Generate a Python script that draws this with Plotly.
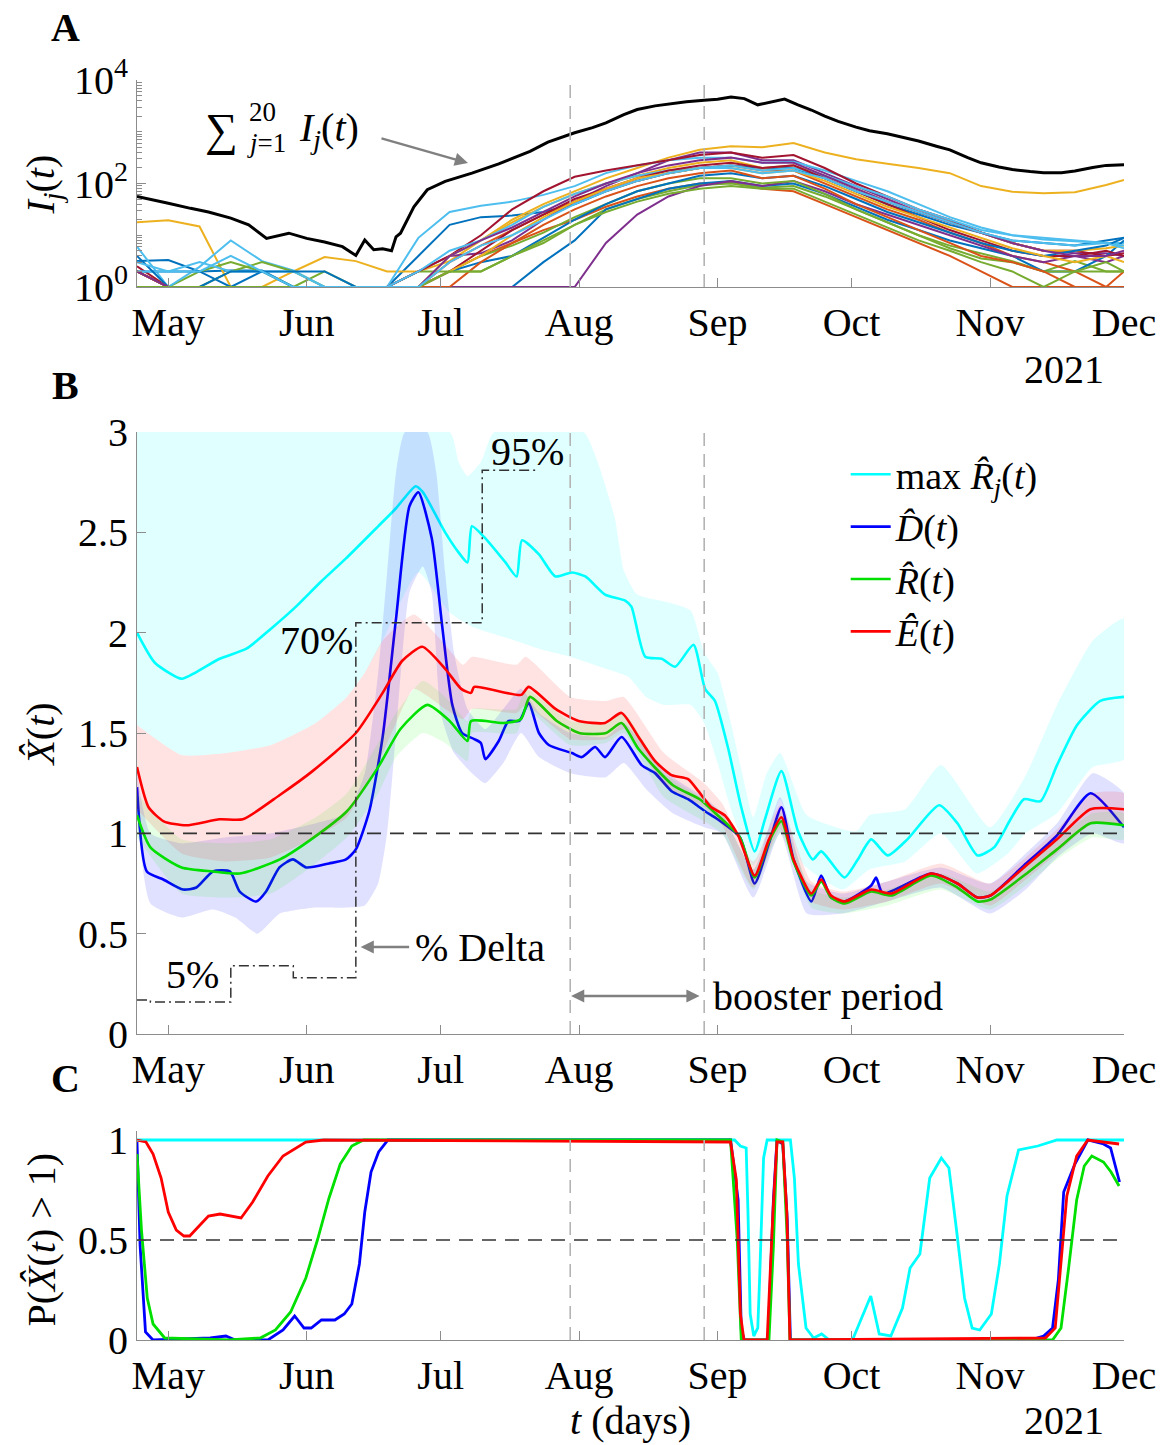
import pandas as pd
import plotly.graph_objects as go

# ---------------------------------------------------------------- time base
T0 = pd.Timestamp("2021-04-24")
X_START, X_END = "2021-04-24", "2021-12-01"
MONTH_TICKS = ["2021-05-01", "2021-06-01", "2021-07-01", "2021-08-01",
               "2021-09-01", "2021-10-01", "2021-11-01", "2021-12-01"]
MONTH_LABELS = ["May", "Jun", "Jul", "Aug", "Sep", "Oct", "Nov", "Dec"]
BOOSTER = ["2021-07-30", "2021-08-29"]

# ---------------------------------------------------------------- panel A data (log10 I_j)
A_DAYS = [0, 7, 14, 21, 28, 35, 42, 49, 56, 63, 70, 77, 84, 91, 98, 105, 112, 119,
          126, 133, 140, 147, 154, 161, 168, 175, 182, 189, 196, 203, 210, 217, 221]
LOG_I = [
    [0.5, 0.52, 0.3, 0.32, 0.32, 0, 0, 0, 0, 0.6, 1.2, 1.35, 1.38, 1.45, 1.6, 1.85, 2.05, 2.2, 2.3, 2.35, 2.3, 2.3, 2.1, 1.85, 1.6, 1.4, 1.2, 1.05, 0.9, 0.85, 0.8, 0.9, 0.95],
    [0.3, 0, 0, 0, 0, 0, 0, 0, 0, 0, 0.3, 0.6, 0.85, 1.1, 1.3, 1.55, 1.75, 1.9, 2.0, 2.02, 1.9, 1.85, 1.6, 1.35, 1.1, 0.85, 0.6, 0.3, 0, 0, 0, 0, 0],
    [1.25, 1.29, 1.17, 0.0, 0, 0.3, 0.58, 0.5, 0.3, 0.3, 0.5, 0.9, 1.3, 1.6, 1.85, 2.1, 2.3, 2.5, 2.65, 2.72, 2.7, 2.78, 2.6, 2.47, 2.38, 2.3, 2.2, 1.95, 1.84, 1.81, 1.83, 1.97, 2.07],
    [0, 0, 0, 0, 0, 0, 0, 0, 0, 0.3, 0.6, 0.65, 0.9, 1.3, 1.65, 1.95, 2.2, 2.45, 2.6, 2.6, 2.45, 2.45, 2.2, 1.95, 1.7, 1.45, 1.25, 1.05, 0.85, 0.7, 0.65, 0.65, 0.6],
    [0.3, 0, 0.3, 0.48, 0.3, 0, 0.3, 0, 0, 0.3, 0.3, 0.3, 0.6, 0.85, 1.2, 1.5, 1.7, 1.85, 1.97, 2.0, 1.92, 1.95, 1.75, 1.5, 1.25, 1.0, 0.8, 0.65, 0.5, 0.3, 0.5, 0.3, 0.3],
    [0.78, 0, 0.39, 0.9, 0.5, 0.32, 0, 0, 0, 0.95, 1.45, 1.57, 1.65, 1.78, 1.95, 2.2, 2.35, 2.45, 2.5, 2.5, 2.4, 2.42, 2.25, 2.05, 1.85, 1.6, 1.35, 1.15, 1.0, 0.92, 0.88, 0.85, 0.85],
    [0.4, 0, 0, 0, 0, 0, 0, 0, 0, 0.3, 0.6, 1.0, 1.5, 1.85, 2.13, 2.25, 2.35, 2.45, 2.55, 2.6, 2.5, 2.55, 2.3, 2.0, 1.75, 1.5, 1.3, 1.05, 0.85, 0.7, 0.7, 0.6, 0.65],
    [0.3, 0.3, 0.3, 0, 0.3, 0, 0, 0, 0, 0, 0, 0, 0, 0.48, 0.9, 1.5, 1.7, 1.9, 2.0, 2.05, 1.95, 2.0, 1.8, 1.55, 1.3, 1.1, 0.9, 0.75, 0.6, 0.3, 0.3, 0.6, 0.9],
    [0, 0, 0, 0, 0, 0, 0, 0, 0, 0, 0.48, 0.8, 1.1, 1.4, 1.65, 1.85, 2.05, 2.2, 2.3, 2.35, 2.25, 2.25, 2.0, 1.75, 1.5, 1.3, 1.05, 0.85, 0.6, 0.48, 0.3, 0, 0.3],
    [0, 0, 0, 0, 0, 0, 0, 0, 0, 0, 0.6, 0.9, 1.25, 1.55, 1.8, 2.0, 2.15, 2.3, 2.4, 2.45, 2.3, 2.35, 2.15, 1.9, 1.65, 1.45, 1.25, 1.05, 0.85, 0.7, 0.7, 0.75, 0.8],
    [0, 0, 0, 0, 0, 0, 0, 0, 0, 0, 0, 0, 0, 0, 0, 0.85, 1.4, 1.75, 1.95, 2.05, 1.95, 2.05, 1.85, 1.6, 1.4, 1.2, 1.0, 0.8, 0.6, 0.48, 0.6, 0.48, 0.6],
    [0.3, 0, 0, 0.3, 0.48, 0.3, 0, 0, 0, 0, 0.3, 0.6, 0.8, 1.05, 1.35, 1.6, 1.85, 2.0, 2.1, 2.1, 2.0, 2.05, 1.8, 1.5, 1.25, 1.0, 0.75, 0.55, 0.48, 0.3, 0.3, 0.48, 0.3],
    [0.3, 0.3, 0.48, 0.3, 0.3, 0.3, 0, 0, 0, 0.3, 0.7, 0.9, 1.2, 1.55, 1.8, 2.0, 2.15, 2.25, 2.3, 2.35, 2.25, 2.3, 2.15, 1.95, 1.75, 1.5, 1.3, 1.1, 1.0, 0.95, 0.9, 0.85, 0.8],
    [0.3, 0, 0, 0, 0, 0, 0, 0, 0, 0, 0.3, 0.7, 1.1, 1.4, 1.7, 1.9, 2.1, 2.25, 2.35, 2.4, 2.3, 2.35, 2.1, 1.85, 1.6, 1.35, 1.1, 0.9, 0.7, 0.6, 0.6, 0.7, 0.6],
    [0.6, 0, 0, 0.3, 0.3, 0.3, 0.3, 0, 0, 0, 0.3, 0.48, 0.6, 0.95, 1.3, 1.6, 1.85, 2.0, 2.15, 2.2, 2.1, 2.15, 1.95, 1.7, 1.45, 1.25, 1.05, 0.85, 0.7, 0.6, 0.7, 0.8, 0.95],
    [0.3, 0, 0, 0, 0, 0, 0, 0, 0, 0, 0, 0.48, 0.85, 1.2, 1.5, 1.75, 1.95, 2.1, 2.2, 2.25, 2.1, 2.15, 1.9, 1.6, 1.35, 1.1, 0.85, 0.6, 0.48, 0.3, 0, 0, 0],
    [0, 0, 0, 0, 0, 0, 0, 0, 0, 0, 0.3, 0.6, 1.0, 1.35, 1.65, 1.9, 2.1, 2.2, 2.3, 2.3, 2.2, 2.25, 2.05, 1.8, 1.55, 1.35, 1.15, 0.95, 0.75, 0.6, 0.48, 0.6, 0.48],
    [0.3, 0, 0, 0, 0, 0, 0, 0, 0, 0, 0.6, 0.9, 1.15, 1.45, 1.75, 2.0, 2.2, 2.35, 2.45, 2.5, 2.4, 2.4, 2.15, 1.9, 1.65, 1.45, 1.25, 1.05, 0.85, 0.7, 0.6, 0.6, 0.7],
    [0, 0, 0, 0, 0, 0, 0, 0, 0, 0, 0.3, 0.3, 0.6, 0.9, 1.2, 1.45, 1.65, 1.8, 1.9, 1.95, 1.9, 1.9, 1.65, 1.4, 1.15, 0.9, 0.7, 0.48, 0.3, 0, 0.3, 0.3, 0.3],
    [0.48, 0.3, 0.3, 0.6, 0.3, 0, 0, 0, 0, 0, 0.48, 0.8, 1.0, 1.3, 1.6, 1.85, 2.05, 2.2, 2.3, 2.3, 2.2, 2.25, 2.1, 1.85, 1.65, 1.45, 1.25, 1.05, 0.9, 0.85, 0.8, 0.85, 0.75],
]
SUM_DAYS = [0, 4, 7, 12, 16, 21, 25, 29, 34, 38, 42, 46, 49, 51, 53, 55, 57, 58, 59, 62, 65, 69,
            75, 81, 88, 92, 98, 102, 105, 109, 112, 116, 119, 123, 127, 130, 133, 136, 139, 142,
            145, 148, 151, 154, 157, 161, 164, 168, 172, 175, 179, 182, 186, 189, 193, 196, 200,
            203, 207, 210, 214, 217, 221]
SUM_LOG = [1.75, 1.68, 1.62, 1.52, 1.45, 1.33, 1.2, 0.94, 1.04, 0.94, 0.87, 0.78, 0.61, 0.91, 0.72,
           0.74, 0.70, 0.97, 1.04, 1.55, 1.88, 2.04, 2.2, 2.38, 2.62, 2.80, 2.98, 3.08, 3.17, 3.33,
           3.43, 3.50, 3.54, 3.58, 3.61, 3.63, 3.67, 3.64, 3.52, 3.58, 3.63, 3.52, 3.42, 3.30, 3.20,
           3.09, 3.02, 2.96, 2.88, 2.82, 2.72, 2.65, 2.50, 2.40, 2.32, 2.27, 2.23, 2.21, 2.21, 2.24,
           2.31, 2.35, 2.36]

# ---------------------------------------------------------------- panel B data
MAXR_DAYS = [0, 4, 10, 13, 18.5, 24.5, 30, 35.6, 41, 46.8, 54, 58, 62.4, 64, 69, 72, 74, 75, 78,
             82.5, 85, 86.2, 90, 93.7, 97.4, 100.4, 104.8, 109.3, 110.7, 113.8, 117.5, 120.5,
             124.6, 127.2, 129.4, 132.4, 135.3, 138.3, 140.6, 144.3, 148, 151.3, 153.2, 158.4,
             161.4, 164.4, 168.1, 172.5, 179.6, 183.7, 188.2, 191.9, 195.6, 198.6, 202.3, 206,
             210.5, 215.7, 221]
MAXR = [2.00, 1.85, 1.77, 1.80, 1.87, 1.92, 2.02, 2.13, 2.25, 2.37, 2.53, 2.62, 2.73, 2.70, 2.50,
        2.40, 2.35, 2.53, 2.47, 2.35, 2.28, 2.46, 2.39, 2.28, 2.30, 2.28, 2.19, 2.16, 2.13, 1.88,
        1.87, 1.83, 1.94, 1.72, 1.66, 1.42, 1.13, 0.91, 1.07, 1.31, 1.01, 0.87, 0.91, 0.78, 0.87,
        0.97, 0.89, 0.97, 1.14, 1.05, 0.89, 0.93, 1.07, 1.17, 1.16, 1.34, 1.54, 1.66, 1.68]

D_DAYS = [0, 2.2, 5.9, 10.3, 13.3, 17, 20.8, 23, 26.7, 28.9, 31.9, 34.9, 37.9, 43, 46.8, 49, 52, 55,
          58, 61, 63, 66, 68.4, 70.6, 72.8, 75.5, 77, 78, 81, 83.2, 85.6, 87.7, 90, 92.2, 97.4,
          99.6, 102.6, 104.8, 108.5, 113, 116, 119.7, 123.4, 127.2, 130, 135, 138.3, 141.5, 144.3,
          147, 151, 153.2, 155.4, 158.4, 164.4, 165.5, 167, 177.8, 183.7, 188.2, 191.1, 198.6, 206,
          213.5, 221]
D_HAT = [1.23, 0.81, 0.77, 0.72, 0.73, 0.81, 0.81, 0.71, 0.66, 0.71, 0.83, 0.87, 0.83, 0.85, 0.87,
         0.92, 1.11, 1.48, 2.07, 2.63, 2.70, 2.47, 2.02, 1.64, 1.50, 1.47, 1.45, 1.37, 1.46, 1.56,
         1.56, 1.65, 1.50, 1.44, 1.40, 1.38, 1.43, 1.38, 1.48, 1.34, 1.30, 1.21, 1.17, 1.11, 1.07,
         0.98, 0.75, 0.95, 1.13, 0.87, 0.66, 0.79, 0.68, 0.66, 0.74, 0.78, 0.70, 0.80, 0.75, 0.68,
         0.69, 0.84, 0.99, 1.20, 1.03]

R_DAYS = [0, 3, 10, 17, 23, 32, 39, 47, 54, 59, 65, 70, 74, 74.8, 82, 86, 88, 94, 99, 105, 108.5,
          112.3, 120, 126, 130, 135, 138.3, 141.5, 144.3, 147, 151, 153.2, 155.4, 158.4, 164.4,
          168.9, 177.8, 183.7, 188.2, 191.1, 198.6, 206, 213.5, 221]
R_HAT = [1.09, 0.93, 0.83, 0.81, 0.80, 0.87, 0.97, 1.11, 1.33, 1.52, 1.64, 1.56, 1.46, 1.56, 1.55,
         1.57, 1.68, 1.56, 1.50, 1.50, 1.55, 1.42, 1.24, 1.17, 1.09, 0.98, 0.78, 0.96, 1.06, 0.86,
         0.69, 0.76, 0.68, 0.65, 0.71, 0.69, 0.79, 0.73, 0.66, 0.67, 0.79, 0.92, 1.05, 1.04]

E_DAYS = [0, 2.6, 6, 11, 18.5, 23.7, 31.9, 39.3, 49, 55, 59.4, 63.9, 69, 72.6, 74.8, 75.5, 86,
          87.7, 93.7, 98.9, 104.8, 108.5, 112.3, 116, 119.7, 123.4, 125.7, 128.6, 131.6, 134.6,
          138.3, 141.5, 144.3, 147, 151, 153.2, 155.4, 158.4, 164.4, 168.9, 177.8, 183.7, 188.2,
          191.1, 198.6, 206, 213.5, 221]
E_HAT = [1.33, 1.13, 1.06, 1.04, 1.07, 1.07, 1.19, 1.31, 1.50, 1.70, 1.86, 1.93, 1.82, 1.72, 1.70,
         1.73, 1.69, 1.73, 1.62, 1.56, 1.55, 1.60, 1.48, 1.36, 1.29, 1.27, 1.21, 1.13, 1.09, 0.99,
         0.79, 0.97, 1.08, 0.87, 0.70, 0.77, 0.69, 0.66, 0.72, 0.70, 0.80, 0.75, 0.68, 0.69, 0.83,
         0.97, 1.12, 1.12]

# credible bands: (MM-DD, value)
MAXR_UP = [("04-24", 3.0), ("07-03", 3.0), ("07-05", 2.85), ("07-07", 2.78), ("07-10", 2.85),
           ("07-13", 3.0), ("08-02", 3.0), ("08-05", 2.86), ("08-09", 2.57), ("08-11", 2.31),
           ("08-14", 2.19), ("08-21", 2.15), ("08-26", 2.11), ("08-29", 1.9), ("09-01", 1.8),
           ("09-04", 1.55), ("09-07", 1.25), ("09-09", 1.08), ("09-12", 1.3), ("09-15", 1.40),
           ("09-21", 1.09), ("10-02", 1.01), ("10-05", 1.09), ("10-13", 1.12), ("10-21", 1.34),
           ("11-01", 1.03), ("11-09", 1.29), ("11-16", 1.64), ("11-24", 1.96), ("12-01", 2.07)]
MAXR_LO = [("04-24", 1.54), ("05-04", 1.39), ("05-14", 1.40), ("05-24", 1.44), ("06-03", 1.55),
           ("06-10", 1.68), ("06-14", 1.80), ("06-18", 1.96), ("06-26", 2.3),
           ("07-03", 2.1), ("07-08", 2.03), ("07-15", 1.98), ("07-23", 1.92), ("07-30", 1.88),
           ("08-07", 1.82), ("08-12", 1.78), ("08-16", 1.68), ("08-20", 1.64), ("08-26", 1.64),
           ("08-29", 1.55), ("09-01", 1.35), ("09-04", 1.12), ("09-09", 0.84), ("09-12", 0.97),
           ("09-15", 1.17), ("09-20", 0.85), ("09-29", 0.72), ("10-05", 0.82), ("10-13", 0.86),
           ("10-21", 1.0), ("10-29", 0.8), ("11-05", 0.9), ("11-09", 1.0), ("11-16", 1.1),
           ("11-24", 1.33), ("12-01", 1.37)]
D_UP = [("04-24", 1.3), ("04-27", 1.0), ("05-04", 0.95), ("05-14", 0.98), ("05-24", 1.0),
        ("06-03", 1.05), ("06-10", 1.1), ("06-14", 1.3), ("06-17", 1.8), ("06-19", 2.3),
        ("06-21", 2.8), ("06-23", 3.0), ("06-28", 3.0), ("06-30", 2.8), ("07-02", 2.3),
        ("07-04", 1.9), ("07-07", 1.62), ("07-11", 1.52), ("07-15", 1.62), ("07-19", 1.72),
        ("07-23", 1.6), ("07-30", 1.5), ("08-07", 1.48), ("08-11", 1.55), ("08-16", 1.42),
        ("08-22", 1.28), ("08-29", 1.18), ("09-02", 1.1), ("09-09", 0.82), ("09-15", 1.18),
        ("09-21", 0.76), ("09-29", 0.7), ("10-09", 0.76), ("10-21", 0.83), ("11-01", 0.75),
        ("11-09", 0.9), ("11-16", 1.05), ("11-24", 1.3), ("12-01", 1.2)]
D_LO = [("04-24", 1.1), ("04-27", 0.65), ("05-04", 0.58), ("05-11", 0.62), ("05-16", 0.58),
        ("05-21", 0.5), ("05-26", 0.6), ("06-03", 0.63), ("06-10", 0.63), ("06-14", 0.64),
        ("06-17", 0.75), ("06-19", 1.0), ("06-21", 1.5), ("06-24", 2.2), ("06-27", 2.33),
        ("06-29", 2.2), ("07-01", 1.6), ("07-04", 1.4), ("07-08", 1.3), ("07-11", 1.25),
        ("07-15", 1.35), ("07-19", 1.5), ("07-23", 1.38), ("07-30", 1.3), ("08-07", 1.28),
        ("08-11", 1.35), ("08-16", 1.22), ("08-22", 1.1), ("08-29", 1.03), ("09-02", 1.0),
        ("09-09", 0.68), ("09-15", 1.0), ("09-21", 0.6), ("09-29", 0.6), ("10-09", 0.66),
        ("10-21", 0.73), ("11-01", 0.6), ("11-09", 0.72), ("11-16", 0.88), ("11-24", 1.0),
        ("12-01", 0.95)]
R_UP = [("04-24", 1.2), ("05-04", 0.97), ("05-14", 0.95), ("05-24", 0.97), ("06-03", 1.08),
        ("06-10", 1.2), ("06-17", 1.45), ("06-21", 1.6), ("06-27", 1.76), ("07-02", 1.68),
        ("07-07", 1.56), ("07-08", 1.62), ("07-18", 1.62), ("07-20", 1.72), ("07-30", 1.56),
        ("08-07", 1.55), ("08-11", 1.6), ("08-20", 1.3), ("08-29", 1.17), ("09-02", 1.1),
        ("09-09", 0.82), ("09-15", 1.1), ("09-22", 0.72), ("09-29", 0.68), ("10-09", 0.72),
        ("10-21", 0.8), ("11-01", 0.71), ("11-09", 0.83), ("11-16", 0.97), ("11-24", 1.1),
        ("12-01", 1.1)]
R_LO = [("04-24", 0.98), ("05-04", 0.7), ("05-14", 0.68), ("05-24", 0.7), ("06-03", 0.85),
        ("06-10", 0.98), ("06-17", 1.2), ("06-21", 1.38), ("06-27", 1.5), ("07-02", 1.45),
        ("07-07", 1.36), ("07-08", 1.5), ("07-18", 1.5), ("07-20", 1.62), ("07-30", 1.44),
        ("08-07", 1.45), ("08-11", 1.5), ("08-20", 1.18), ("08-29", 1.06), ("09-02", 1.0),
        ("09-09", 0.72), ("09-15", 1.0), ("09-22", 0.63), ("09-29", 0.6), ("10-09", 0.64),
        ("10-21", 0.72), ("11-01", 0.62), ("11-09", 0.74), ("11-16", 0.87), ("11-24", 0.98),
        ("12-01", 0.97)]
E_UP = [("04-24", 1.54), ("05-04", 1.39), ("05-14", 1.40), ("05-24", 1.44), ("06-03", 1.55),
        ("06-10", 1.68), ("06-14", 1.80), ("06-18", 1.96), ("06-25", 2.09), ("07-02", 1.94),
        ("07-06", 1.84), ("07-08", 1.88), ("07-18", 1.84), ("07-20", 1.88), ("07-30", 1.68),
        ("08-07", 1.66), ("08-11", 1.68), ("08-20", 1.40), ("08-29", 1.25), ("09-02", 1.15),
        ("09-09", 0.86), ("09-15", 1.14), ("09-22", 0.76), ("09-29", 0.71), ("10-09", 0.76),
        ("10-21", 0.85), ("11-01", 0.75), ("11-09", 0.88), ("11-16", 1.02), ("11-24", 1.2),
        ("12-01", 1.2)]
E_LO = [("04-24", 1.12), ("05-04", 0.9), ("05-14", 0.86), ("05-24", 0.88), ("06-03", 0.98),
        ("06-10", 1.08), ("06-17", 1.35), ("06-21", 1.55), ("06-25", 1.72), ("07-02", 1.62),
        ("07-06", 1.57), ("07-08", 1.62), ("07-18", 1.6), ("07-20", 1.64), ("07-30", 1.47),
        ("08-07", 1.47), ("08-11", 1.52), ("08-20", 1.24), ("08-29", 1.13), ("09-02", 1.04),
        ("09-09", 0.73), ("09-15", 1.02), ("09-22", 0.66), ("09-29", 0.62), ("10-09", 0.66),
        ("10-21", 0.75), ("11-01", 0.64), ("11-09", 0.77), ("11-16", 0.9), ("11-24", 1.05),
        ("12-01", 1.05)]

# share of Delta variant (scaled to the B axis), step function
DELTA_DAYS = [0, 3, 21, 35, 49, 77.3, 90]
DELTA_LEVEL = [0.17, 0.16, 0.34, 0.28, 2.05, 2.81, 2.81]

# ---------------------------------------------------------------- panel C data  P(X>1)
PC_MAXR_DAYS = [0, 133.8, 135.1, 136.4, 136.8, 137.3, 138.1, 139, 139.4, 140.3, 141.1, 146.3, 147.2,
                148.1, 149.8, 151.5, 153.3, 155, 160.2, 164.3, 166.2, 168.8, 171.4, 173.1, 175.3,
                177.5, 180.1, 181.8, 183.5, 185.3, 187, 188.7, 191.3, 193.1, 194.8, 197.4, 201.7,
                206, 221]
PC_MAXR = [1.0, 1.0, 0.97, 0.96, 0.64, 0.13, 0.02, 0.06, 0.30, 0.91, 1.0, 1.0, 0.81, 0.38, 0.06,
           0.01, 0.03, 0.0, 0.0, 0.22, 0.03, 0.02, 0.16, 0.36, 0.43, 0.81, 0.91, 0.86, 0.55, 0.21,
           0.06, 0.05, 0.13, 0.38, 0.72, 0.95, 0.97, 1.0, 1.0]
PC_D_DAYS = [0, 0.7, 1.9, 3.6, 16.4, 19.9, 22, 29.3, 32.7, 35.3, 37.4, 39, 41.3, 44.3, 46.4, 48.1,
             49.8, 51, 52.4, 54.1, 56.2, 132.9, 134.6, 135.3, 136, 141.3, 142.5, 143.3, 144.6,
             145.6, 146.3, 200, 203, 205, 206.3, 207.5, 210, 212.9, 216.4, 218, 220]
PC_D = [0.99, 0.47, 0.04, 0.0, 0.01, 0.02, 0.0, 0.0, 0.05, 0.12, 0.06, 0.06, 0.10, 0.10, 0.13, 0.18,
        0.38, 0.64, 0.84, 0.94, 1.0, 1.0, 0.7, 0.05, 0.0, 0.0, 0.7, 1.0, 0.98, 0.6, 0.0, 0.0, 0.02,
        0.06, 0.3, 0.74, 0.88, 1.0, 0.98, 0.96, 0.79]
PC_R_DAYS = [0, 1, 2.3, 3.6, 6.2, 20.6, 27.6, 31, 34.4, 37.8, 40.4, 43, 45.5, 48.1, 50.7, 132.9,
             134.4, 135.3, 141.5, 142.5, 143.3, 144.6, 145.6, 146.2, 205, 206.9, 208.6, 210.4, 212.1,
             213.8, 216.4, 218.1, 219.9]
PC_R = [0.93, 0.55, 0.21, 0.08, 0.01, 0.0, 0.01, 0.05, 0.14, 0.31, 0.5, 0.71, 0.88, 0.97, 1.0, 1.0,
        0.5, 0.0, 0.0, 0.47, 1.0, 0.99, 0.5, 0.0, 0.0, 0.06, 0.36, 0.70, 0.87, 0.92, 0.89, 0.84, 0.77]
PC_E_DAYS = [0, 2, 3.6, 5.4, 7, 8.8, 10.5, 11.8, 13.9, 16, 18.6, 23.3, 25.9, 29.3, 32.7, 37.8, 41.8,
             132.9, 134.2, 135.1, 135.9, 141.1, 142.4, 143.3, 144.6, 145.5, 146.2, 203.4, 205.6,
             206.9, 208.2, 210.4, 212.9, 219.9]
PC_E = [1.0, 0.99, 0.93, 0.81, 0.64, 0.55, 0.52, 0.52, 0.57, 0.62, 0.63, 0.61, 0.69, 0.82, 0.92,
        0.99, 1.0, 0.99, 0.80, 0.13, 0.0, 0.0, 0.64, 0.99, 0.99, 0.64, 0.0, 0.01, 0.06, 0.38, 0.72,
        0.92, 1.0, 0.98]

THRESH_B, THRESH_C = 1.0, 0.5

# ---------------------------------------------------------------- styles
FONT = "Liberation Serif"
AX = "#8c8c8c"
MATLAB = ["#0072BD", "#D95319", "#EDB120", "#7E2F8E", "#77AC30", "#4DBEEE", "#A2142F"]
C_CYAN, C_BLUE, C_GREEN, C_RED = "#00FFFF", "#0000FF", "#00E000", "#FF0000"
F_CYAN = "rgba(0,255,255,0.12)"
F_BLUE = "rgba(0,0,255,0.12)"
F_GREEN = "rgba(0,255,0,0.10)"
F_RED = "rgba(255,0,0,0.11)"

W, H = 1168, 1445
ML, MR, MT, MB = 137, 38, 80, 105
PW, PH = W - ML - MR, H - MT - MB


def dd(days):
    return [T0 + pd.Timedelta(days=float(d)) for d in days]


def md(pairs):
    return [pd.Timestamp("2021-" + p[0]) for p in pairs], [p[1] for p in pairs]


def px(x, y):
    return (x - ML) / PW, (MT + PH - y) / PH


def ydom(top_px, bot_px):
    return [(MT + PH - bot_px) / PH, (MT + PH - top_px) / PH]


fig = go.Figure()

# ---- panel A
xa = dd(A_DAYS)
for i, lv in enumerate(LOG_I):
    fig.add_trace(go.Scatter(x=xa, y=[10 ** v for v in lv], mode="lines",
                             line=dict(color=MATLAB[i % 7], width=2),
                             showlegend=False, hoverinfo="skip", xaxis="x", yaxis="y"))
fig.add_trace(go.Scatter(x=dd(SUM_DAYS), y=[10 ** v for v in SUM_LOG], mode="lines",
                         line=dict(color="black", width=3), showlegend=False,
                         xaxis="x", yaxis="y"))


# ---- panel B
def band(up, lo, fill):
    xu, yu = md(up)
    xl, yl = md(lo)
    return go.Scatter(x=xu + xl[::-1], y=yu + yl[::-1], fill="toself", fillcolor=fill,
                      mode="lines", line=dict(width=0, shape="spline", smoothing=0.5),
                      showlegend=False, hoverinfo="skip", xaxis="x2", yaxis="y2")


def smooth(color, width=2.6):
    return dict(color=color, width=width, shape="spline", smoothing=0.6)


fig.add_trace(band(MAXR_UP, MAXR_LO, F_CYAN))
fig.add_trace(go.Scatter(x=dd(MAXR_DAYS), y=MAXR, mode="lines", line=smooth(C_CYAN),
                         name="max <i>R̂</i><sub><i>j</i></sub>(<i>t</i>)", xaxis="x2", yaxis="y2"))
fig.add_trace(band(D_UP, D_LO, F_BLUE))
fig.add_trace(go.Scatter(x=dd(D_DAYS), y=D_HAT, mode="lines", line=smooth(C_BLUE),
                         name="<i>D̂</i>(<i>t</i>)", xaxis="x2", yaxis="y2"))
fig.add_trace(band(R_UP, R_LO, F_GREEN))
fig.add_trace(go.Scatter(x=dd(R_DAYS), y=R_HAT, mode="lines", line=smooth(C_GREEN),
                         name="<i>R̂</i>(<i>t</i>)", xaxis="x2", yaxis="y2"))
fig.add_trace(band(E_UP, E_LO, F_RED))
fig.add_trace(go.Scatter(x=dd(E_DAYS), y=E_HAT, mode="lines", line=smooth(C_RED),
                         name="<i>Ê</i>(<i>t</i>)", xaxis="x2", yaxis="y2"))
fig.add_trace(go.Scatter(x=dd(DELTA_DAYS), y=DELTA_LEVEL, mode="lines", line_shape="hv",
                         line=dict(color="#333333", width=1.5, dash="10px,4px,2px,4px"),
                         showlegend=False, xaxis="x2", yaxis="y2"))

# ---- panel C
for days, vals, col in [(PC_MAXR_DAYS, PC_MAXR, C_CYAN), (PC_D_DAYS, PC_D, C_BLUE),
                        (PC_R_DAYS, PC_R, C_GREEN), (PC_E_DAYS, PC_E, C_RED)]:
    fig.add_trace(go.Scatter(x=dd(days), y=vals, mode="lines",
                             line=dict(color=col, width=2.8),
                             showlegend=False, xaxis="x3", yaxis="y3"))

# ---- axes
xcommon = dict(type="date", range=[X_START, X_END], tickmode="array", tickvals=MONTH_TICKS,
               ticktext=MONTH_LABELS, ticks="inside", ticklen=9, tickwidth=1.2, tickcolor=AX,
               showline=True, linecolor=AX, linewidth=1.2, showgrid=False, zeroline=False,
               tickfont=dict(family=FONT, size=40, color="black"))
ycommon = dict(ticks="inside", ticklen=9, tickwidth=1.2, tickcolor=AX, showline=True,
               linecolor=AX, linewidth=1.2, showgrid=False, zeroline=False,
               tickfont=dict(family=FONT, size=40, color="black"))

minor_vals = [m * 10 ** e for e in range(0, 4) for m in range(2, 10)] + [10, 1000]

fig.update_layout(
    width=W, height=H, margin=dict(l=ML, r=MR, t=MT, b=MB),
    paper_bgcolor="white", plot_bgcolor="white",
    font=dict(family=FONT, size=40, color="black"),
    xaxis=dict(xcommon, anchor="y"),
    xaxis2=dict(xcommon, anchor="y2", matches="x"),
    xaxis3=dict(xcommon, anchor="y3", matches="x"),
    yaxis=dict(ycommon, type="log", range=[0, 4], domain=ydom(80, 287),
               tickmode="array", tickvals=[1, 100, 10000],
               ticktext=["10<sup>0</sup>", "10<sup>2</sup>", "10<sup>4</sup>"],
               minor=dict(tickmode="array", tickvals=minor_vals, ticks="inside",
                          ticklen=5, tickcolor=AX, showgrid=False)),
    yaxis2=dict(ycommon, range=[0, 3], domain=ydom(432, 1034), tickmode="array",
                tickvals=[0, 0.5, 1, 1.5, 2, 2.5, 3],
                ticktext=["0", "0.5", "1", "1.5", "2", "2.5", "3"]),
    yaxis3=dict(ycommon, range=[0, 1.045], domain=ydom(1131, 1340), tickmode="array",
                tickvals=[0, 0.5, 1], ticktext=["0", "0.5", "1"]),
    showlegend=True,
    legend=dict(x=px(850, 0)[0], y=px(0, 443)[1], xanchor="left", yanchor="top",
                bgcolor="rgba(0,0,0,0)", font=dict(family=FONT, size=38, color="black"),
                itemwidth=40, tracegroupgap=0),
)

# ---- reference lines
shapes = []
for d in BOOSTER:
    for xr, yr, y0, y1 in [("x", "y domain", 0, 1), ("x2", "y2 domain", 0, 1), ("x3", "y3", 0, 1)]:
        shapes.append(dict(type="line", xref=xr, yref=yr, x0=d, x1=d, y0=y0, y1=y1,
                           line=dict(color="#b4b4b4", width=1.6, dash="13px,8px"), layer="above"))
shapes.append(dict(type="line", xref="x2 domain", yref="y2", x0=0, x1=1, y0=THRESH_B, y1=THRESH_B,
                   line=dict(color="#333333", width=1.6, dash="14px,9px"), layer="above"))
shapes.append(dict(type="line", xref="x3 domain", yref="y3", x0=0, x1=1, y0=THRESH_C, y1=THRESH_C,
                   line=dict(color="#333333", width=1.6, dash="14px,9px"), layer="above"))
fig.update_layout(shapes=shapes)

# ---- text annotations
ann = []


def text(x, y, s, size=40, xanchor="center", yanchor="middle", angle=0):
    xp, yp = px(x, y)
    ann.append(dict(x=xp, y=yp, xref="paper", yref="paper", text=s, showarrow=False,
                    xanchor=xanchor, yanchor=yanchor, textangle=angle,
                    font=dict(family=FONT, size=size, color="black")))


def arrow(xh, yh, xt, yt, both=False):
    xp, yp = px(xh, yh)
    ann.append(dict(x=xp, y=yp, xref="paper", yref="paper", text="", showarrow=True,
                    ax=xt - xh, ay=yt - yh, arrowcolor="#808080", arrowwidth=2.4,
                    arrowhead=2, arrowsize=1.1, startarrowhead=2, startarrowsize=1.1,
                    arrowside="end+start" if both else "end"))


text(65, 28, "<b>A</b>", size=40)
text(65, 385, "<b>B</b>", size=40)
text(65, 1078, "<b>C</b>", size=40)

text(42, 185, "<i>I<sub>j</sub></i>(<i>t</i>)", angle=-90)
text(40, 735, "<i>X̂</i>(<i>t</i>)", angle=-90)
text(40, 1240, "P(<i>X̂</i>(<i>t</i>) > 1)", angle=-90)
text(633, 1420, "<i>t</i> (days)")
text(1112, 370, "2021", xanchor="right")
text(1112, 1420, "2021", xanchor="right")

text(222, 130, "∑", size=46)
text(248, 112, "20", size=27, xanchor="left")
text(246, 143, "<i>j</i>=1", size=27, xanchor="left")
text(298, 130, "<i>I<sub>j</sub></i>(<i>t</i>)", xanchor="left")
arrow(470, 163, 382, 138)

text(530, 452, "95%")
text(318, 640, "70%")
text(193, 975, "5%")
arrow(362, 947, 412, 947)
text(415, 947, "% Delta", xanchor="left")
arrow(703, 996, 573, 996, both=True)
text(714, 996, "booster period", xanchor="left")

fig.update_layout(annotations=ann)

fig.write_html("out.html")
